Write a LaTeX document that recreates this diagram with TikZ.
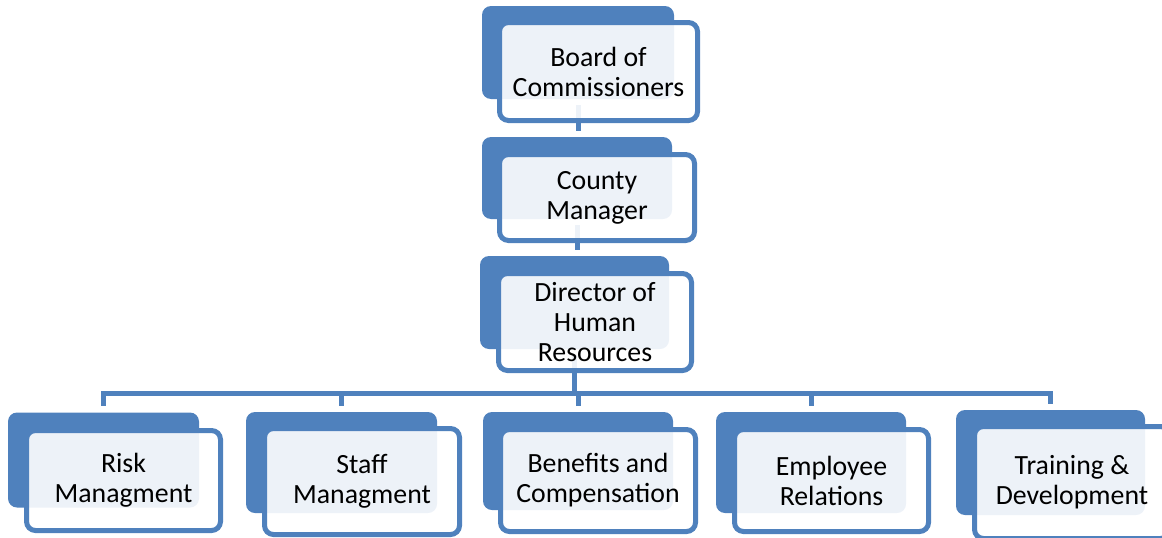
\documentclass[tikz,border=0pt]{standalone}
\usepackage{fontspec}
\setmainfont{Carlito}
\definecolor{obl}{HTML}{4F81BD}
\begin{document}
\begin{tikzpicture}[x=1pt,y=-1pt,
  backbox/.style={fill=obl, draw=none, rounded corners=9pt, inner sep=0pt},
  frontbox/.style={draw=obl, line width=5pt, fill=white, fill opacity=0.9, text opacity=1,
    rounded corners=9pt, inner sep=0pt, align=center, text=black,
    font=\fontsize{27.8}{30}\selectfont},
  conn/.style={draw=obl, line width=5pt, shorten <=6pt, shorten >=6pt}
]
\useasboundingbox (0,0) rectangle (1162,538);
\clip (0,0) rectangle (1162,538);
% back boxes
\node[backbox, minimum width=192, minimum height=93] (boardb) at (578,52.5) {};
\node[backbox, minimum width=190, minimum height=82] (countyb) at (577,178) {};
\node[backbox, minimum width=189, minimum height=93] (dirb) at (574.5,302.5) {};
\node[backbox, minimum width=191, minimum height=95] (riskb) at (103.5,460) {};
\node[backbox, minimum width=191, minimum height=101] (staffb) at (341.5,462.5) {};
\node[backbox, minimum width=190, minimum height=98] (benb) at (578,461) {};
\node[backbox, minimum width=190, minimum height=101] (empb) at (811,462.5) {};
\node[backbox, minimum width=189, minimum height=105] (trainb) at (1050.5,462.5) {};
% connectors
\coordinate (bus) at (0,393);
\draw[conn] (boardb.south) -- (boardb.south |- countyb.north);
\draw[conn] (countyb.south) -- (countyb.south |- dirb.north);
\foreach \c in {riskb,staffb,benb,empb,trainb}{
  \draw[conn] (dirb.south) -- (dirb.south |- bus) -| (\c.north);
}
% front boxes
\node[frontbox, minimum width=198, minimum height=98] (board) at (598.5,71.5) {Board of\\Commissioners};
\node[frontbox, minimum width=195, minimum height=86] (county) at (597,197.5) {County\\Manager};
\node[frontbox, minimum width=193, minimum height=97] (dir) at (595,322) {Director of\\Human\\Resources};
\node[frontbox, minimum width=194, minimum height=100] (risk) at (123.5,480.5) {Risk\\Managment};
\node[frontbox, minimum width=195, minimum height=106] (staff) at (362,481.5) {Staff\\Managment};
\node[frontbox, minimum width=195, minimum height=102] (ben) at (598,480.5) {Benefits and\\Compensation};
\node[frontbox, minimum width=194, minimum height=102] (emp) at (831.5,480.5) {Employee\\Relations};
\node[frontbox, minimum width=195, minimum height=112] (train) at (1072,482.5) {Training \&\\Development};
\end{tikzpicture}
\end{document}
